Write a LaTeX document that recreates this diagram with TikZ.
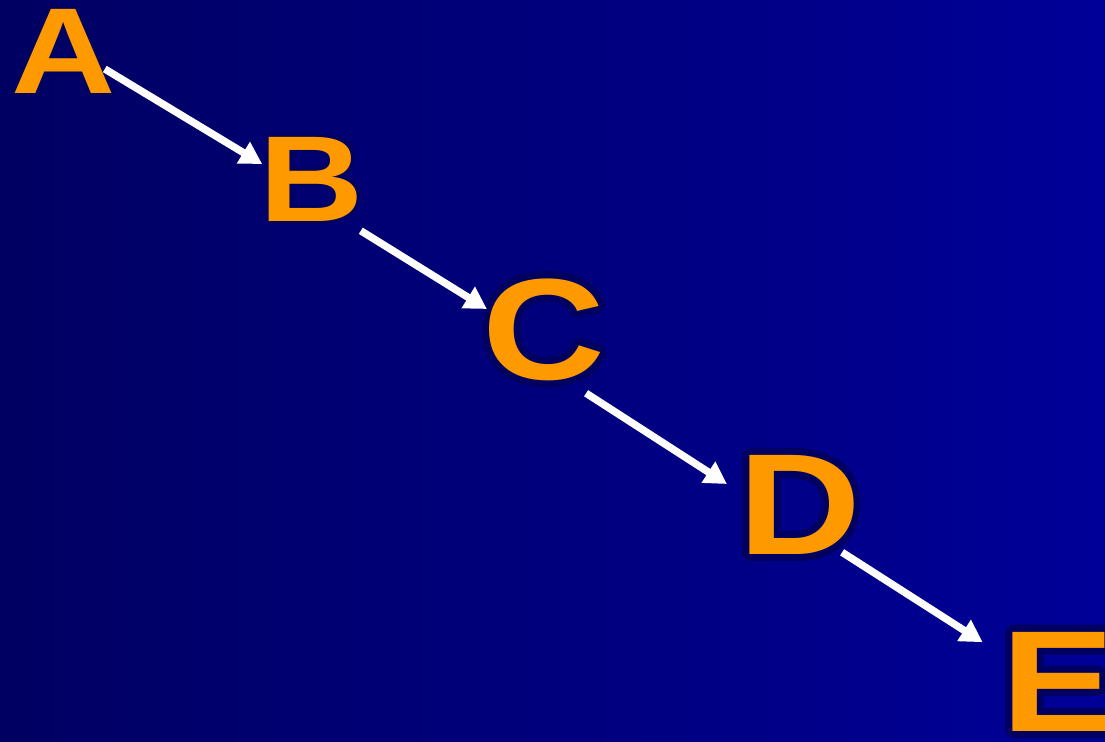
\documentclass[tikz,border=0pt]{standalone}
\usepackage{fontspec}
\newfontfamily\slidefont[FakeStretch=1.18]{Liberation Sans}
\usepackage{contour}
\usepackage{xcolor}
\usetikzlibrary{arrows.meta}

\definecolor{slideorange}{RGB}{255,153,0}
\definecolor{navyleft}{RGB}{0,0,98}
\definecolor{navyright}{RGB}{0,0,152}
\definecolor{rim}{RGB}{0,0,96}

\begin{document}
\begin{tikzpicture}[>={Triangle[length=2.2mm,width=2.4mm]},
    letter/.style={inner sep=0pt, text=slideorange,
        font=\slidefont\bfseries\fontsize{34.8}{40}\selectfont},
    bigletter/.style={letter,
        font=\slidefont\bfseries\fontsize{41}{46}\selectfont},
    link/.style={->, white, line width=2.1pt}]
    % Nền
    \useasboundingbox (0,0) rectangle (11.05,7.41);
    \shade[left color=navyleft, right color=navyright] (0,0) rectangle (11.05,7.41);

    % Các chữ cái
    \contourlength{0.85pt}
    \node[letter] (A) at (0.64,6.88) {\contour{rim}{A}};
    \node[letter] (B) at (3.12,5.605) {\contour{rim}{B}};
    \contourlength{2pt}
    \node[bigletter] (C) at (5.435,4.08) {\contour{rim}{C}};
    \node[bigletter] (D) at (7.995,2.325) {\contour{rim}{D}};
    \node[bigletter] (E) at (10.58,0.56) {\contour{rim}{E}};

    % Mũi tên
    \draw[link] ([shift={(-0.12,-0.16)}]A.east) -- ([shift={(0.03,0.165)}]B.west);
    \draw[link] ([shift={(-0.04,-0.06)}]B.south east) -- ([shift={(0.055,0.24)}]C.west);
    \draw[link] ([shift={(-0.195,-0.05)}]C.south east) -- ([shift={(-0.105,0.245)}]D.west);
    \draw[link] ([shift={(-0.195,0.10)}]D.south east) -- ([shift={(-0.18,-0.11)}]E.north west);
\end{tikzpicture}
\end{document}
